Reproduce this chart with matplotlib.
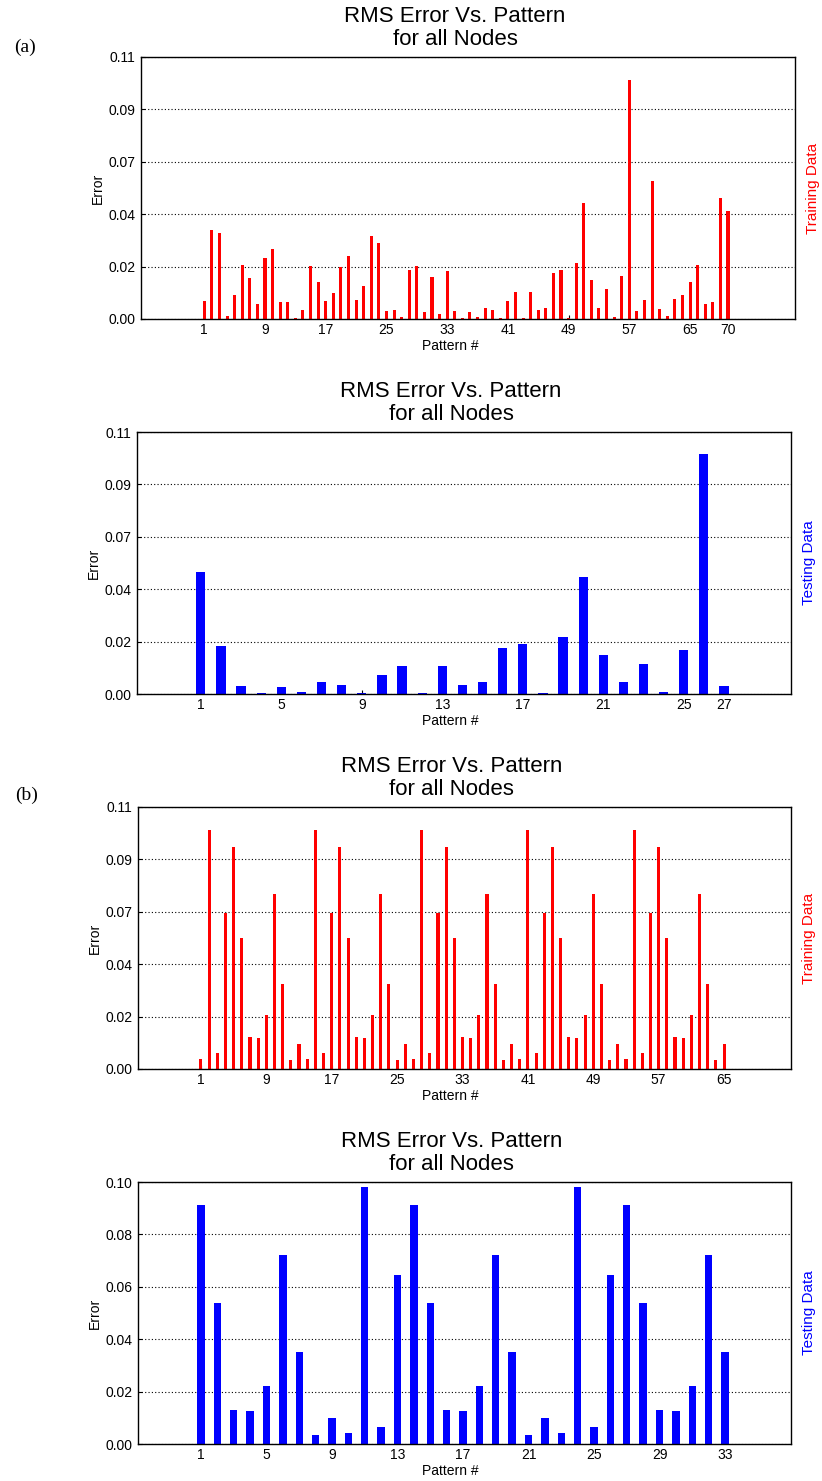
import numpy as np
import matplotlib
matplotlib.use('Agg')
import matplotlib.pyplot as plt

plt.rcParams['font.family'] = ['Liberation Sans', 'DejaVu Sans']

# RMS error per pattern, (a) network
train_a = [0.0077, 0.0375, 0.0362, 0.0014, 0.0101, 0.0227, 0.0174, 0.0063, 0.0256, 0.0295,
           0.0071, 0.0071, 0.0006, 0.0038, 0.0222, 0.0154, 0.0077, 0.0111, 0.0217, 0.0266,
           0.0081, 0.0140, 0.0347, 0.0319, 0.0032, 0.0038, 0.0010, 0.0207, 0.0222, 0.0028,
           0.0178, 0.0022, 0.0203, 0.0032, 0.0006, 0.0028, 0.0010, 0.0048, 0.0038, 0.0006,
           0.0077, 0.0115, 0.0006, 0.0115, 0.0038, 0.0048, 0.0193, 0.0207, 0.0006, 0.0237,
           0.0487, 0.0165, 0.0048, 0.0125, 0.0010, 0.0182, 0.1005, 0.0032, 0.0081, 0.0579,
           0.0043, 0.0014, 0.0085, 0.0101, 0.0154, 0.0227, 0.0062, 0.0071, 0.0507, 0.0453]
test_a = [0.0512, 0.0203, 0.0034, 0.0006, 0.0029, 0.0010, 0.0049, 0.0039, 0.0006, 0.0078,
          0.0118, 0.0006, 0.0118, 0.0039, 0.0049, 0.0195, 0.0209, 0.0006, 0.0238, 0.0490,
          0.0165, 0.0049, 0.0126, 0.0010, 0.0185, 0.1008, 0.0034]

# (b) network
train_b = [0.0043, 0.1005, 0.0067, 0.0655, 0.0932, 0.0550, 0.0134, 0.0130, 0.0227, 0.0735,
           0.0357, 0.0038, 0.0106, 0.0043, 0.1005, 0.0067, 0.0655, 0.0932, 0.0550, 0.0134,
           0.0130, 0.0227, 0.0735, 0.0357, 0.0038, 0.0106, 0.0043, 0.1005, 0.0067, 0.0655,
           0.0932, 0.0550, 0.0134, 0.0130, 0.0227, 0.0735, 0.0357, 0.0038, 0.0106, 0.0043,
           0.1005, 0.0067, 0.0655, 0.0932, 0.0550, 0.0134, 0.0130, 0.0227, 0.0735, 0.0357,
           0.0038, 0.0106, 0.0043, 0.1005, 0.0067, 0.0655, 0.0932, 0.0550, 0.0134, 0.0130,
           0.0227, 0.0735, 0.0357, 0.0038, 0.0106]
test_b = [0.0914, 0.0539, 0.0131, 0.0127, 0.0223, 0.0720, 0.0350, 0.0034, 0.0100, 0.0043,
          0.0980, 0.0066, 0.0645, 0.0914, 0.0539, 0.0131, 0.0127, 0.0223, 0.0720, 0.0350,
          0.0034, 0.0100, 0.0043, 0.0980, 0.0066, 0.0645, 0.0914, 0.0539, 0.0131, 0.0127,
          0.0223, 0.0720, 0.0350]

xticks_train_a = [1, 9, 17, 25, 33, 41, 49, 57, 65, 70]
xticks_test_a = [1, 5, 9, 13, 17, 21, 25, 27]
xticks_train_b = [1, 9, 17, 25, 33, 41, 49, 57, 65]
xticks_test_b = [1, 5, 9, 13, 17, 21, 25, 29, 33]

ylabels_11 = ['0.00', '0.02', '0.04', '0.07', '0.09', '0.11']
ylabels_10 = ['0.00', '0.02', '0.04', '0.06', '0.08', '0.10']

W, H = 822, 1481
fig = plt.figure(figsize=(W / 100, H / 100), dpi=100)

# left, right, top, bottom in pixels
panels = [
    (train_a, xticks_train_a, (-7.34, 78.83), 0.11, ylabels_11, 'red', 'Training Data', 0.4, (141, 795, 57, 319)),
    (test_a, xticks_test_a, (-2.17, 30.33), 0.11, ylabels_11, 'blue', 'Testing Data', 0.46, (137, 791, 432, 694)),
    (train_b, xticks_train_b, (-6.7, 73.19), 0.11, ylabels_11, 'red', 'Training Data', 0.38, (138, 791, 807, 1069)),
    (test_b, xticks_test_b, (-2.85, 37.03), 0.10, ylabels_10, 'blue', 'Testing Data', 0.45, (138, 791, 1182, 1444)),
]

for vals, xt, xl, ymax, ylab, col, side, bw, (l, r, t, b) in panels:
    ax = fig.add_axes([l / W, 1 - b / H, (r - l) / W, (b - t) / H])
    x = np.arange(1, len(vals) + 1)
    ax.bar(x, vals, width=bw, color=col, edgecolor='none')
    ax.set_xlim(*xl)
    ax.set_ylim(0, ymax)
    ax.set_xticks(xt)
    ax.set_yticks(np.linspace(0, ymax, 6))
    ax.set_yticklabels(ylab)
    ax.set_axisbelow(True)
    ax.yaxis.grid(True, color='black', linestyle=(0, (1, 2)), linewidth=0.8)
    ax.tick_params(direction='in', length=3, labelsize=10, pad=4)
    ax.tick_params(axis='x', pad=3)
    for s in ax.spines.values():
        s.set_linewidth(1.0)

    cx = (l + r) / 2 - 13
    fig.text(cx / W, 1 - (t - 29) / H, 'RMS Error Vs. Pattern\nfor all Nodes',
             ha='center', va='center', fontsize=16, linespacing=1.15)
    fig.text(450 / W, 1 - (b + 27) / H, 'Pattern #', ha='center', va='center', fontsize=10)
    fig.text((l - 43) / W, 1 - (t + b) / 2 / H, 'Error', ha='center', va='center',
             rotation=90, fontsize=10)
    fig.text((r + 18) / W, 1 - (t + b) / 2 / H, side, ha='center', va='center',
             rotation=90, fontsize=11, color=col)

fig.text(25 / W, 1 - 47 / H, '(a)', ha='center', va='center', fontsize=14,
         family=['Liberation Serif', 'DejaVu Serif'])
fig.text(27 / W, 1 - 795 / H, '(b)', ha='center', va='center', fontsize=14,
         family=['Liberation Serif', 'DejaVu Serif'])

fig.savefig('out.png', dpi=100)
